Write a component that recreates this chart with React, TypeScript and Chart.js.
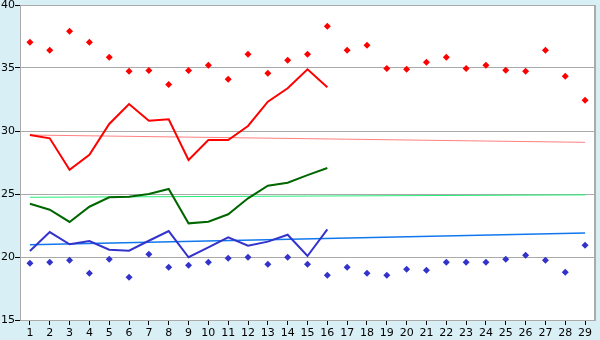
import React, { useEffect, useRef } from "react";
import { Chart, registerables } from "chart.js";

Chart.register(...registerables);

const categories = ["1","2","3","4","5","6","7","8","9","10","11","12","13","14","15","16","17","18","19","20","21","22","23","24","25","26","27","28","29"];

const redPoints = [37.04,36.4,37.91,37.04,35.85,34.74,34.81,33.7,34.81,35.21,34.1,36.09,34.58,35.61,36.09,38.31,36.4,36.8,34.97,34.9,35.45,35.85,34.97,35.21,34.82,34.74,36.4,34.34,32.44];
const redLine = [29.68,29.42,26.93,28.12,30.56,32.14,30.82,30.93,27.7,29.29,29.29,30.4,32.33,33.39,34.9,33.47];
const greenLine = [24.23,23.75,22.78,23.99,24.74,24.79,25.0,25.4,22.67,22.8,23.39,24.66,25.66,25.9,26.5,27.06];
const blueLine = [20.48,21.98,21.01,21.27,20.58,20.5,21.29,22.06,19.98,20.77,21.56,20.9,21.22,21.77,20.08,22.2];
const bluePoints = [19.5,19.58,19.74,18.71,19.82,18.39,20.21,19.18,19.34,19.58,19.9,19.98,19.42,19.98,19.42,18.55,19.18,18.71,18.55,19.02,18.94,19.58,19.58,19.58,19.82,20.13,19.74,18.79,20.93];
// trend lines: start and end values only
const redTrend = [29.68, null,null,null,null,null,null,null,null,null,null,null,null,null,null,null,null,null,null,null,null,null,null,null,null,null,null,null, 29.1];
const greenTrend = [24.74, null,null,null,null,null,null,null,null,null,null,null,null,null,null,null,null,null,null,null,null,null,null,null,null,null,null,null, 24.93];
const blueTrend = [20.98, null,null,null,null,null,null,null,null,null,null,null,null,null,null,null,null,null,null,null,null,null,null,null,null,null,null,null, 21.9];

const yTicks = [15, 20, 25, 30, 35, 40];

const bgPlugin = {
  id: "bg",
  beforeDraw(chart: any) {
    const { ctx, chartArea } = chart;
    ctx.save();
    ctx.fillStyle = "#d9eff6";
    ctx.fillRect(0, 0, chart.width, chart.height);
    ctx.fillStyle = "#ffffff";
    ctx.fillRect(chartArea.left, chartArea.top, chartArea.right - chartArea.left, chartArea.bottom - chartArea.top);
    ctx.restore();
  },
  afterDraw(chart: any) {
    const { ctx, chartArea } = chart;
    ctx.save();
    ctx.strokeStyle = "#aaaaaa";
    ctx.lineWidth = 1;
    ctx.beginPath();
    ctx.moveTo(chartArea.left + 0.5, chartArea.top + 0.5);
    ctx.lineTo(chartArea.right - 0.5, chartArea.top + 0.5);
    ctx.stroke();
    ctx.lineWidth = 2;
    ctx.beginPath();
    ctx.moveTo(chartArea.right, chartArea.top);
    ctx.lineTo(chartArea.right, chartArea.bottom);
    ctx.stroke();
    ctx.restore();
  },
};

export default function App() {
  const ref = useRef<HTMLCanvasElement | null>(null);
  useEffect(() => {
    document.body.style.margin = "0";
    const canvas = ref.current!;
    const lineDs = (label: string, data: any[], color: string, width: number, order: number) => ({
      label, data, borderColor: color, backgroundColor: color, borderWidth: width,
      pointRadius: 0, tension: 0, spanGaps: true, fill: false, order,
    });
    const pointDs = (label: string, data: any[], color: string, order: number) => ({
      label, data, borderColor: color, backgroundColor: color, showLine: false,
      pointStyle: "rectRot", pointRadius: 3.5, pointBorderWidth: 0, order,
    });
    const chart = new Chart(canvas, {
      type: "line",
      data: {
        labels: categories,
        datasets: [
          pointDs("redPoints", redPoints, "#ff0000", 1),
          pointDs("bluePoints", bluePoints, "#3333cc", 1),
          lineDs("red", redLine, "#ff0000", 2, 2),
          lineDs("green", greenLine, "#006600", 2, 3),
          lineDs("blue", blueLine, "#3333cc", 2, 4),
          lineDs("redTrend", redTrend, "#ff8080", 1, 5),
          lineDs("greenTrend", greenTrend, "#22ee77", 1, 6),
          lineDs("blueTrend", blueTrend, "#1177ee", 1.5, 7),
        ] as any,
      },
      options: {
        animation: false,
        responsive: false,
        devicePixelRatio: 1,
        layout: { padding: { top: 5, right: 5, left: 0, bottom: 0 } },
        plugins: { legend: { display: false }, tooltip: { enabled: false } },
        scales: {
          x: {
            offset: true,
            grid: { drawOnChartArea: false, tickLength: 5, tickColor: "#000000", offset: false },
            border: { display: true, color: "#aaaaaa", width: 1 },
            ticks: { color: "#000000", font: { family: "DejaVu Sans", size: 11 }, padding: 2, autoSkip: false, maxRotation: 0 },
            afterFit(scale: any) { scale.height = 20; scale.paddingLeft = 0; scale.paddingRight = 0; },
          },
          y: {
            min: 15, max: 40,
            afterBuildTicks(scale: any) { scale.ticks = yTicks.map((v) => ({ value: v })); },
            grid: { color: "#aaaaaa", lineWidth: 1, tickLength: 5, tickColor: "#000000" },
            border: { display: true, color: "#aaaaaa", width: 1 },
            ticks: { color: "#000000", font: { family: "DejaVu Sans", size: 11 }, padding: 0 },
            afterFit(scale: any) { scale.width = 20; scale.paddingTop = 0; scale.paddingBottom = 0; },
          },
        },
      } as any,
      plugins: [bgPlugin],
    });
    return () => chart.destroy();
  }, []);
  return (
    <div style={{ position: "absolute", left: 0, top: 0, width: 600, height: 340 }}>
      <canvas ref={ref} width={600} height={340} style={{ width: 600, height: 340, display: "block" }} />
    </div>
  );
}
